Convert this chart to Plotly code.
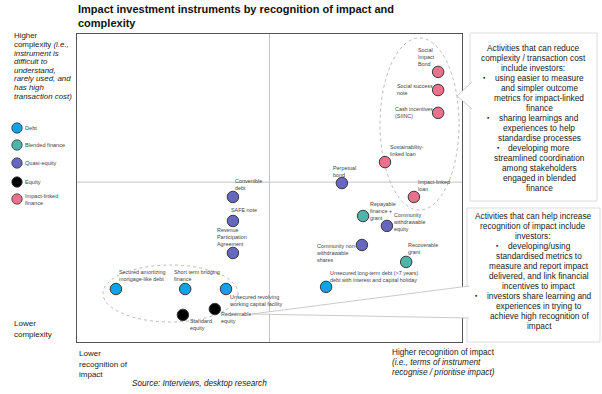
import plotly.graph_objects as go

# ---------------- data ----------------
names = [
    "Social<br>Impact<br>Bond", "Social success<br>note", "Cash incentives<br>(SIINC)",
    "Sustainability-<br>linked loan", "Impact-linked<br>loan",
    "Perpetual<br>bond", "Convertible<br>debt", "SAFE note",
    "Revenue<br>Participation<br>Agreement", "Community<br>withdrawable<br>equity",
    "Community non-<br>withdrawable<br>shares",
    "Repayable<br>finance +<br>grant", "Recoverable<br>grant",
    "Unsecured long-term debt (>7 years)<br>debt with interest and capital holiday",
    "Unsecured revolving<br>working capital facility",
    "Secured amortizing<br>mortgage-like debt", "Short term bridging<br>finance",
    "Standard<br>equity", "Redeemable<br>equity",
]
categories = [
    "Impact-linked finance", "Impact-linked finance", "Impact-linked finance",
    "Impact-linked finance", "Impact-linked finance",
    "Quasi-equity", "Quasi-equity", "Quasi-equity", "Quasi-equity", "Quasi-equity",
    "Quasi-equity",
    "Blended finance", "Blended finance",
    "Debt", "Debt", "Debt", "Debt",
    "Equity", "Equity",
]
recognition = [9.38, 9.38, 9.38, 8.00, 8.75, 6.88, 4.05, 4.05, 4.05, 8.05, 7.40,
               7.43, 8.55, 6.47, 3.87, 1.01, 2.81, 2.75, 3.58]
complexity = [8.77, 8.18, 7.44, 5.84, 4.71, 5.16, 4.71, 3.93, 2.89, 3.77, 3.15,
              4.09, 2.60, 1.79, 1.72, 1.72, 1.72, 0.88, 1.07]
legend_order = ["Debt", "Blended finance", "Quasi-equity", "Equity", "Impact-linked finance"]
legend_labels = ["Debt", "Blended finance", "Quasi-equity", "Equity", "Impact-linked<br>finance"]
x_mid = 5.0
y_mid = 5.19

title_text = "<b>Impact investment instruments by recognition of impact and<br>complexity</b>"
y_high_lines = ["Higher", "complexity <i>(i.e.,</i>", "<i>instrument is</i>", "<i>difficult to</i>",
                "<i>understand,</i>", "<i>rarely used, and</i>", "<i>has high</i>",
                "<i>transaction cost)</i>"]
y_low_lines = ["Lower", "complexity"]
x_low_lines = ["Lower", "recognition of", "impact"]
x_high_lines = ["Higher recognition of impact", "<i>(i.e., terms of instrument</i>",
                "<i>recognise / prioritise impact)</i>"]
source_text = "<i>Source: Interviews, desktop research</i>"
box1_lines = ["Activities that can reduce", "complexity / transaction cost", "include investors:",
              "using easier to measure", "and simpler outcome", "metrics for impact-linked",
              "finance", "sharing learnings and", "experiences to help",
              "standardise processes", "developing more", "streamlined coordination",
              "among stakeholders", "engaged in blended", "finance"]
box1_bullet_rows = [3, 7, 10]
box2_lines = ["Activities that can help increase", "recognition of impact include", "investors:",
              "developing/using", "standardised metrics to", "measure and report impact",
              "delivered, and link financial", "incentives to impact",
              "investors share learning and", "experiences in trying to",
              "achieve high recognition of", "impact"]
box2_bullet_rows = [3, 8]

# ---------------- styles ----------------
colors = {
    "Debt": "#12a0e6",
    "Blended finance": "#4fb5ab",
    "Quasi-equity": "#6667bf",
    "Equity": "#000000",
    "Impact-linked finance": "#e9718b",
}
# label placement: (dx px, vertical anchor, dy px)
label_style = [
    (-21, "bottom", 4), (-42, "middle", 1), (-44, "middle", 0),
    (4, "bottom", 4), (3, "bottom", 4),
    (-10, "bottom", 4), (1, "bottom", 5), (-3, "bottom", 7), (-17, "bottom", 5),
    (5, "middle", 4), (-47, "middle", -8),
    (6, "middle", 5), (1, "bottom", 6),
    (3, "bottom", 3), (2, "top", -4), (2, "bottom", 6), (-12, "bottom", 6),
    (6, "top", -2), (5, "top", -1),
]
FONT = "Liberation Sans, Arial, sans-serif"
TXT = "#1a1a1a"
L, R, T, B = 77, 462, 34, 342
W, H = 602, 394


def px(x):
    return (x - L) / (R - L)


def py(y):
    return (B - y) / (B - T)


fig = go.Figure()
for cat in legend_order:
    idx = [i for i, c in enumerate(categories) if c == cat]
    fig.add_trace(go.Scatter(
        x=[recognition[i] for i in idx], y=[complexity[i] for i in idx],
        mode="markers", name=cat, showlegend=False,
        marker=dict(size=11.5, color=colors[cat], line=dict(color="#3a3a3a", width=1)),
        hoverinfo="skip",
    ))

annotations = []
for i, n in enumerate(names):
    dx, va, dy = label_style[i]
    annotations.append(dict(
        x=recognition[i], y=complexity[i], xref="x", yref="y", text=n,
        showarrow=False, xanchor="left", yanchor=va, xshift=dx, yshift=dy,
        align="left", font=dict(family=FONT, size=5.4, color="#444"),
        borderpad=0,
    ))


def line_text(text, x, y, size, xanchor="left", color=TXT):
    annotations.append(dict(x=px(x), y=py(y), xref="paper", yref="paper", text=text,
                            showarrow=False, xanchor=xanchor, yanchor="middle",
                            font=dict(family=FONT, size=size, color=color), borderpad=0))


def line_block(lines, x, y0, dy, size, xanchor="left"):
    for k, ln in enumerate(lines):
        line_text(ln, x, y0 + k * dy, size, xanchor)


shapes = []
# crosshair lines
shapes.append(dict(type="line", xref="x", yref="paper", x0=x_mid, x1=x_mid, y0=0, y1=1,
                   line=dict(color="#c4c4c4", width=1), layer="below"))
shapes.append(dict(type="line", xref="paper", yref="y", x0=0, x1=1, y0=y_mid, y1=y_mid,
                   line=dict(color="#c4c4c4", width=1), layer="below"))
# ellipses
shapes.append(dict(type="circle", xref="paper", yref="paper", x0=px(380), x1=px(459),
                   y0=py(210), y1=py(38), line=dict(color="#a8a8a8", width=0.8, dash="dot"),
                   layer="below"))
shapes.append(dict(type="circle", xref="paper", yref="paper", x0=px(103), x1=px(238),
                   y0=py(322), y1=py(265), line=dict(color="#a8a8a8", width=0.8, dash="dot"),
                   layer="below"))
# text boxes
shapes.append(dict(type="rect", xref="paper", yref="paper", x0=px(470), x1=px(597),
                   y0=py(201), y1=py(33), line=dict(color="#dcdcdc", width=1),
                   fillcolor="white", layer="above"))
shapes.append(dict(type="rect", xref="paper", yref="paper", x0=px(467), x1=px(600),
                   y0=py(342), y1=py(208), line=dict(color="#dcdcdc", width=1),
                   fillcolor="white", layer="above"))


def wedge(pts):
    s = "M {} {}".format(px(pts[0][0]), py(pts[0][1]))
    for p in pts[1:]:
        s += " L {} {}".format(px(p[0]), py(p[1]))
    return s


shapes.append(dict(type="path", xref="paper", yref="paper",
                   path=wedge([(472, 82), (457, 96), (472, 109)]),
                   fillcolor="white", line=dict(color="#bdbdbd", width=0.8), layer="above"))
shapes.append(dict(type="path", xref="paper", yref="paper",
                   path=wedge([(469, 286), (252, 314), (469, 318)]),
                   fillcolor="white", line=dict(color="#bdbdbd", width=0.8), layer="above"))

# legend
leg_y = [128, 145, 163, 182, 199]
for cat, lab, yy in zip(legend_order, legend_labels, leg_y):
    r = 5.2
    shapes.append(dict(type="circle", xref="paper", yref="paper",
                       x0=px(17 - r), x1=px(17 + r), y0=py(yy + r), y1=py(yy - r),
                       fillcolor=colors[cat], line=dict(color="#3a3a3a", width=0.8)))
    annotations.append(dict(x=px(24), y=py(yy), xref="paper", yref="paper", text=lab,
                            showarrow=False, xanchor="left", yanchor="middle", align="left",
                            font=dict(family=FONT, size=5.6, color="#444"), borderpad=0))

# title
annotations.append(dict(x=px(77), y=py(2), xref="paper", yref="paper", text=title_text,
                        showarrow=False, xanchor="left", yanchor="top", align="left",
                        font=dict(family=FONT, size=11, color="#111"), borderpad=0))
# axis descriptions
line_block(y_high_lines, 13, 36, 8.6, 7.9)
line_block(y_low_lines, 13, 323, 11.5, 8.0)
line_block(x_low_lines, 78, 354, 10, 8.0)
line_block(x_high_lines, 391, 352, 10, 8.2)
line_text(source_text, 199, 384, 8.2, xanchor="center")

# text boxes content
box1_centers = [533, 533, 533] + [539] * 12
box1_bullet_x = {3: 484, 7: 488, 10: 498}
for k, ln in enumerate(box1_lines):
    yy = 47.7 + k * 10.0
    line_text(ln, box1_centers[k], yy, 8.3, xanchor="center")
    if k in box1_bullet_rows:
        line_text("▪", box1_bullet_x[k], yy, 6.5, xanchor="center")

box2_centers = [533, 533, 533] + [539] * 9
box2_bullet_x = {3: 497, 8: 476}
for k, ln in enumerate(box2_lines):
    yy = 215.7 + k * 10.03
    line_text(ln, box2_centers[k], yy, 8.3, xanchor="center")
    if k in box2_bullet_rows:
        line_text("▪", box2_bullet_x[k], yy, 6.5, xanchor="center")

axis_common = dict(range=[0, 10], showgrid=False, zeroline=False, showticklabels=False,
                   ticks="", showline=True, linecolor="#555", linewidth=1, mirror=True,
                   fixedrange=True)
fig.update_layout(
    width=W, height=H, margin=dict(l=L, r=W - R, t=T, b=H - B),
    paper_bgcolor="white", plot_bgcolor="white",
    xaxis=axis_common, yaxis=axis_common,
    shapes=shapes, annotations=annotations, showlegend=False,
    font=dict(family=FONT, color=TXT),
)
fig.write_html("out.html", config={"displayModeBar": False},
               post_script="document.body.style.margin='0px';document.body.style.overflow='hidden';")
